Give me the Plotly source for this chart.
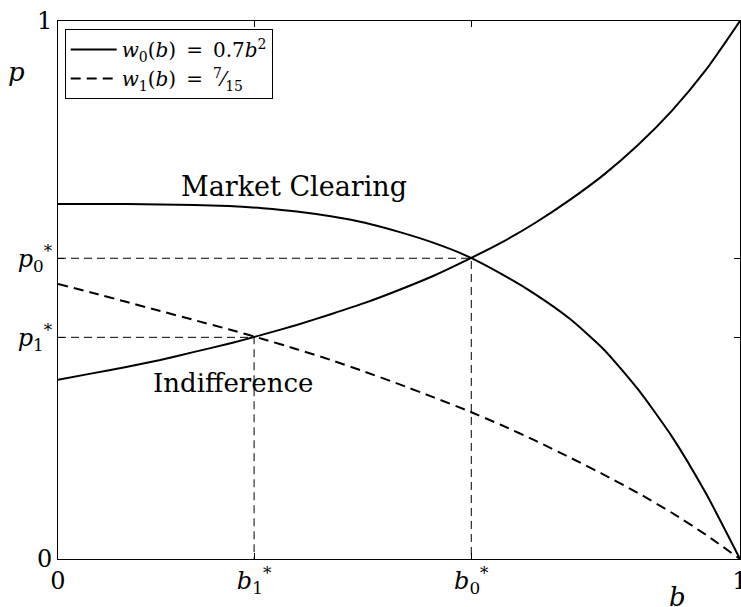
import plotly.graph_objects as go

# ---- data ----
b_grid = [0.00, 0.05, 0.10, 0.15, 0.20, 0.25, 0.30, 0.35, 0.40, 0.45, 0.50,
          0.55, 0.60, 0.65, 0.70, 0.75, 0.80, 0.85, 0.90, 0.95, 1.00]

indiff_p = [0.333, 0.345, 0.357, 0.370, 0.385, 0.400, 0.417, 0.435, 0.455, 0.476, 0.500,
            0.526, 0.556, 0.588, 0.625, 0.667, 0.714, 0.769, 0.833, 0.909, 1.000]

mc_p = [0.660, 0.660, 0.660, 0.659, 0.658, 0.656, 0.652, 0.646, 0.637, 0.625, 0.608,
        0.588, 0.563, 0.530, 0.492, 0.447, 0.390, 0.316, 0.228, 0.122, 0.000]

w1_p = [0.511, 0.495, 0.478, 0.461, 0.444, 0.427, 0.409, 0.390, 0.370, 0.348, 0.325,
        0.301, 0.276, 0.249, 0.220, 0.189, 0.157, 0.123, 0.086, 0.045, 0.000]

b_star = [0.2875, 0.606]   # b1*, b0*
p_star = [0.412, 0.559]    # p1*, p0*

x_tickvals = [0.0, b_star[0], b_star[1], 1.0]
x_ticktext = ["0", "<i>b</i><sub>1</sub><sup>*</sup>", "<i>b</i><sub>0</sub><sup>*</sup>", "1"]
y_tickvals = [0.0, p_star[0], p_star[1], 1.0]
y_ticktext = ["0", "<i>p</i><sub>1</sub><sup>*</sup>", "<i>p</i><sub>0</sub><sup>*</sup>", "1"]

legend_names = ["<i>w</i><sub>0</sub>(<i>b</i>)\u2002=\u20020.7<i>b</i><sup>2</sup>",
                "<i>w</i><sub>1</sub>(<i>b</i>)\u2002=\u2002<sup>7</sup>⁄<sub>15</sub>"]

FONT = "DejaVu Serif"

fig = go.Figure()

# guide lines
for bs, ps in zip(b_star, p_star):
    fig.add_trace(go.Scatter(x=[0, bs, bs], y=[ps, ps, 0], mode="lines",
                             line=dict(color="black", width=1, dash="8px,5px"),
                             showlegend=False, hoverinfo="skip"))

fig.add_trace(go.Scatter(x=b_grid, y=mc_p, mode="lines", name=legend_names[0],
                         line=dict(color="black", width=2, shape="spline", smoothing=0.6)))
fig.add_trace(go.Scatter(x=b_grid, y=w1_p, mode="lines", name=legend_names[1],
                         line=dict(color="black", width=2, dash="10px,6px", shape="spline", smoothing=0.6)))
fig.add_trace(go.Scatter(x=b_grid, y=indiff_p, mode="lines", showlegend=False,
                         line=dict(color="black", width=2, shape="spline", smoothing=0.6)))

fig.add_annotation(x=0.3458, y=0.6916, xref="x", yref="y", text="Market Clearing",
                   showarrow=False, xanchor="center", yanchor="middle",
                   font=dict(family=FONT, size=27, color="black"))
fig.add_annotation(x=0.2563, y=0.3275, xref="x", yref="y", text="Indifference",
                   showarrow=False, xanchor="center", yanchor="middle",
                   font=dict(family=FONT, size=26, color="black"))
fig.add_annotation(x=-0.0606, y=0.905, xref="paper", yref="paper", text="<i>p</i>",
                   showarrow=False, xanchor="center", yanchor="middle",
                   font=dict(family=FONT, size=26, color="black"))
fig.add_annotation(x=0.909, y=-0.070, xref="paper", yref="paper", text="<i>b</i>",
                   showarrow=False, xanchor="center", yanchor="middle",
                   font=dict(family=FONT, size=26, color="black"))

axis_common = dict(range=[0, 1], showgrid=False, zeroline=False, showline=True,
                   linecolor="black", linewidth=1, mirror="ticks", ticks="inside",
                   ticklen=6, tickcolor="black", tickwidth=1, ticklabeloverflow="allow",
                   tickfont=dict(family=FONT, size=24, color="black"), automargin=False)

fig.update_xaxes(tickvals=x_tickvals, ticktext=x_ticktext, **axis_common)
fig.update_yaxes(tickvals=y_tickvals, ticktext=y_ticktext, **axis_common)

fig.update_layout(
    width=741, height=607,
    margin=dict(l=58, r=1, t=21, b=48),
    paper_bgcolor="white", plot_bgcolor="white",
    font=dict(family=FONT, color="black"),
    legend=dict(x=0.0098, y=0.985, xanchor="left", yanchor="top",
                bgcolor="white", bordercolor="black", borderwidth=1,
                font=dict(family=FONT, size=20, color="black"),
                itemwidth=46, tracegroupgap=0),
)

fig.write_html("out.html", config={"displayModeBar": False},
               post_script="document.body.style.margin='0px';document.body.style.overflow='hidden';")
